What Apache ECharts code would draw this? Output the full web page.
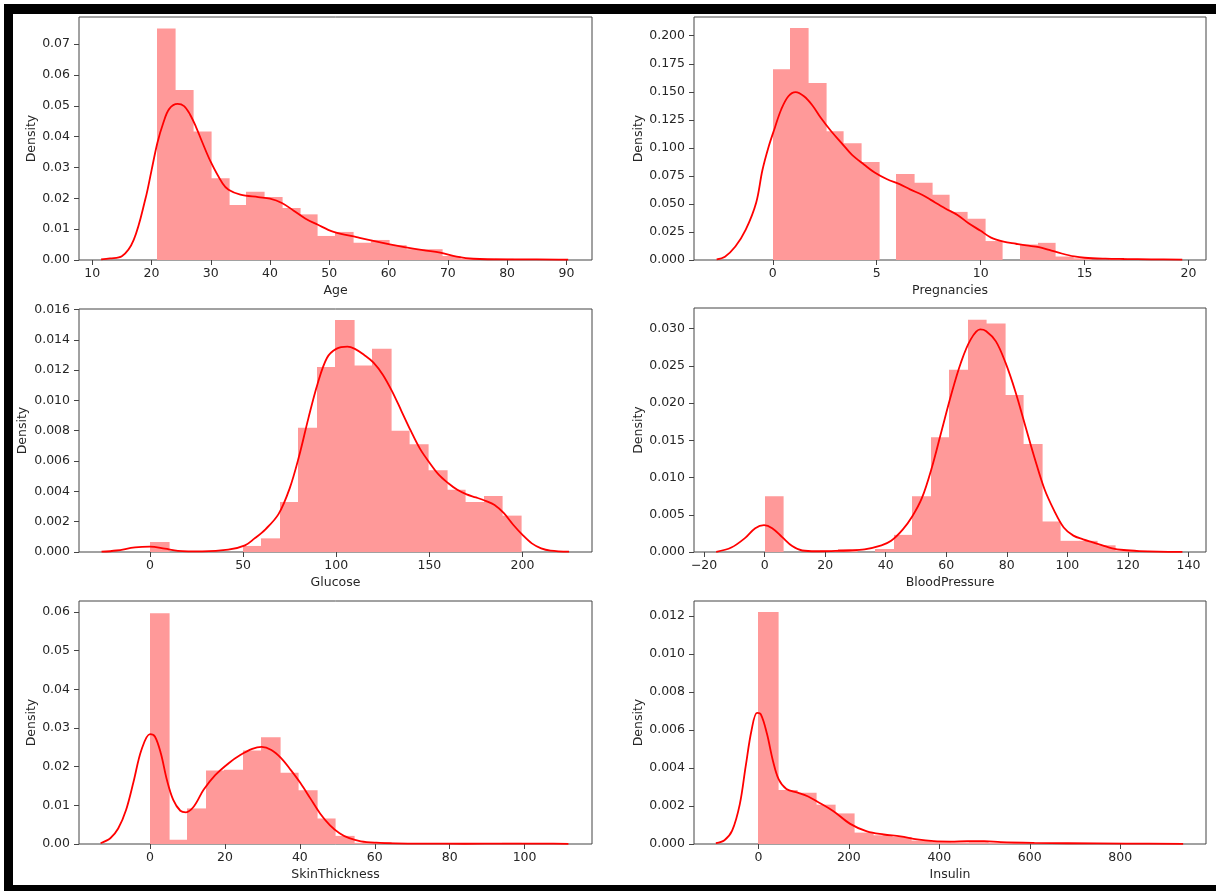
<!DOCTYPE html>
<html>
<head>
<meta charset="utf-8">
<script src="https://cdn.jsdelivr.net/npm/echarts@6/dist/echarts.min.js"></script>
<style>
  html, body { margin: 0; padding: 0; background: #fff; }
  #chart { width: 1216px; height: 891px; }
</style>
</head>
<body>
<div id="chart"></div>
<script>
// histogram densities (20 bins each) and kde curves
var ageBins = [0.0751, 0.0551, 0.0417, 0.0265, 0.0178, 0.0221, 0.0204, 0.0169, 0.0148, 0.0078,
  0.0091, 0.0056, 0.0065, 0.0048, 0.0035, 0.0035, 0.0013, 0.0004, 0, 0.0004];
var ageKdeX = [11.5, 13, 15, 17, 19, 20, 21, 22, 23, 24.4, 25.5, 26.5, 27.5, 28.5, 30, 32, 33, 35, 38, 40, 42, 44, 46, 48, 50.6, 54.6, 60.2, 65.8, 68.7, 71.5, 74.3, 80, 85, 90.3];
var ageKdeY = [0.0002, 0.0005, 0.0012, 0.0065, 0.02, 0.029, 0.038, 0.0445, 0.049, 0.0506, 0.0499, 0.0472, 0.0432, 0.0385, 0.0318, 0.0248, 0.0228, 0.0212, 0.0204, 0.0199, 0.0185, 0.016, 0.0134, 0.0115, 0.0092, 0.0074, 0.0051, 0.0032, 0.0024, 0.0011, 0.0004, 0.0002, 0.0002, 0.0001];

var pregBins = [0.170, 0.2068, 0.1578, 0.1149, 0.1042, 0.0873, 0, 0.0766, 0.0689, 0.0582,
  0.0429, 0.0368, 0.0169, 0, 0.0138, 0.0153, 0.0031, 0.0015, 0, 0.0015];
var pregKdeX = [-2.7, -2.3, -1.8, -1.3, -0.8, -0.5, -0.2, 0.1, 0.4, 0.75, 1.1, 1.5, 1.9, 2.3, 2.8, 3.3, 3.8, 4.4, 4.9, 5.5, 6.1, 6.6, 7.2, 7.6, 8.3, 8.9, 9.4, 10.0, 10.5, 11.1, 11.7, 12.2, 12.8, 13.3, 13.9, 14.5, 15.0, 16.0, 16.9, 18.2, 19.7];
var pregKdeY = [0.0006, 0.003, 0.012, 0.027, 0.051, 0.080, 0.101, 0.118, 0.134, 0.146, 0.1497, 0.146, 0.138, 0.127, 0.115, 0.1045, 0.094, 0.085, 0.078, 0.072, 0.0676, 0.063, 0.058, 0.0536, 0.046, 0.040, 0.033, 0.026, 0.020, 0.0164, 0.0145, 0.013, 0.0115, 0.009, 0.0058, 0.0032, 0.002, 0.0012, 0.0009, 0.0006, 0.0003];

var glucoseBins = [0.00066, 0, 0, 0, 0, 0.0004, 0.0009, 0.0033, 0.0082, 0.0122,
  0.0153, 0.0123, 0.0134, 0.0080, 0.0071, 0.0054, 0.0041, 0.0033, 0.0037, 0.0024];
var glucoseKdeX = [-26, -18, -8, 0, 8, 15, 28, 42, 51, 56, 62, 69, 75, 80, 85, 90, 95, 100, 106, 110, 115, 120, 125, 130, 135, 140, 145, 150, 155, 160, 165, 170, 175, 180, 185, 190, 195, 200, 205, 210, 215, 225];
var glucoseKdeY = [0.00002, 0.0001, 0.0003, 0.00035, 0.00022, 0.00008, 0.00004, 0.00015, 0.00044, 0.00088, 0.0015, 0.0025, 0.0042, 0.0063, 0.0088, 0.0111, 0.0128, 0.0134, 0.01355, 0.0134, 0.0130, 0.0125, 0.0117, 0.0106, 0.0093, 0.0080, 0.0068, 0.0059, 0.0051, 0.00455, 0.0041, 0.0038, 0.0036, 0.00338, 0.0031, 0.00256, 0.0018, 0.00113, 0.00057, 0.00024, 0.00009, 0.00002];

var bpBins = [0.0075, 0, 0, 0.0002, 0.0004, 0, 0.0004, 0.0023, 0.0075, 0.0154,
  0.0245, 0.0312, 0.0307, 0.0211, 0.0145, 0.0041, 0.0015, 0.0015, 0.0009, 0.0002];
var bpKdeX = [-16, -11, -6.4, -3.1, -0.2, 2.5, 5.8, 9.1, 12.4, 17, 22, 28, 33, 38.6, 41.8, 45.6, 48.8, 52, 55.2, 58.4, 61.6, 64.8, 68, 71.2, 73.1, 76.4, 79.6, 82.8, 86, 89.2, 92.4, 95.6, 98.8, 102, 105.2, 108.4, 111.6, 114.8, 118.6, 123.7, 130, 138];
var bpKdeY = [0.00002, 0.0006, 0.0019, 0.0032, 0.0036, 0.0032, 0.002, 0.0008, 0.0002, 0.0001, 0.00013, 0.0002, 0.00036, 0.0009, 0.0015, 0.0030, 0.0048, 0.0073, 0.0113, 0.0162, 0.0211, 0.0254, 0.0285, 0.0299, 0.0297, 0.0283, 0.0254, 0.0216, 0.0171, 0.0126, 0.0085, 0.0056, 0.0033, 0.0022, 0.0017, 0.0013, 0.0009, 0.0005, 0.00027, 0.00013, 0.00005, 0.00002];

var skinBins = [0.0597, 0.0011, 0.0092, 0.0190, 0.0192, 0.0242, 0.0276, 0.0184, 0.0139, 0.0066,
  0.0021, 0.0003, 0.0005, 0, 0, 0, 0, 0, 0, 0.0003];
var skinKdeX = [-13.2, -10.6, -8.5, -6.4, -4.4, -2.3, 0, 1.3, 2.9, 4.5, 6.2, 8.1, 9.6, 11.7, 14.3, 17.4, 21, 24.1, 27.3, 29.8, 32.4, 35, 37.6, 40.2, 42.8, 45.4, 48, 50.6, 53.2, 56.3, 60.4, 65.6, 74, 84, 94.6, 100, 105, 111.7];
var skinKdeY = [0.0002, 0.0015, 0.004, 0.0088, 0.0161, 0.0243, 0.0284, 0.0278, 0.0234, 0.0166, 0.0114, 0.0086, 0.0082, 0.0097, 0.014, 0.0178, 0.0209, 0.023, 0.0246, 0.0251, 0.0243, 0.0222, 0.0191, 0.0157, 0.0118, 0.0079, 0.0049, 0.0028, 0.0015, 0.0007, 0.00034, 0.00017, 0.00009, 0.00007, 0.0001, 0.00012, 0.0001, 0.00002];

var insulinBins = [0.01221, 0.00284, 0.0027, 0.00207, 0.00161, 0.0006, 0.00046, 0.00037, 0.00018, 0.00012,
  0.00009, 0.00012, 0.00006, 0.00006, 0.00003, 0.00003, 0.00003, 0, 0, 0.00003];
var insulinKdeX = [-94, -75, -58, -41, -28, -15, -3, 6, 19, 32, 45, 62, 87, 110, 129, 166, 203, 240, 277, 314, 351, 388, 425, 462, 499, 536, 610, 684, 813, 939];
var insulinKdeY = [0.00004, 0.0002, 0.0007, 0.0021, 0.0041, 0.006, 0.0069, 0.0068, 0.0058, 0.0044, 0.0034, 0.0029, 0.0027, 0.0025, 0.00225, 0.00173, 0.00106, 0.00066, 0.0005, 0.0004, 0.00024, 0.00015, 0.00013, 0.00015, 0.00015, 0.0001, 0.00006, 0.00004, 0.00002, 0.00001];

// tick labels
var ageTicks = [10, 20, 30, 40, 50, 60, 70, 80, 90];
var pregTicks = [0, 5, 10, 15, 20];
var glucoseTicks = [0, 50, 100, 150, 200];
var bpTicks = [-20, 0, 20, 40, 60, 80, 100, 120, 140];
var skinTicks = [0, 20, 40, 60, 80, 100];
var insulinTicks = [0, 200, 400, 600, 800];
var ageDensityTicks = [0, 0.01, 0.02, 0.03, 0.04, 0.05, 0.06, 0.07];
var pregDensityTicks = [0, 0.025, 0.05, 0.075, 0.1, 0.125, 0.15, 0.175, 0.2];
var glucoseDensityTicks = [0, 0.002, 0.004, 0.006, 0.008, 0.01, 0.012, 0.014, 0.016];
var bpDensityTicks = [0, 0.005, 0.01, 0.015, 0.02, 0.025, 0.03];
var skinDensityTicks = [0, 0.01, 0.02, 0.03, 0.04, 0.05, 0.06];
var insulinDensityTicks = [0, 0.002, 0.004, 0.006, 0.008, 0.01, 0.012];

var panels = [
  { name: "Age", bins: ageBins, start: 21, width: 3, kx: ageKdeX, ky: ageKdeY, xt: ageTicks, yt: ageDensityTicks, dec: 2,
    xMin: 7.77, xMax: 94.32, yMax: 0.0788, left: 79, top: 17, w: 513, h: 243, gap: 41 },
  { name: "Pregnancies", bins: pregBins, start: 0, width: 0.85, kx: pregKdeX, ky: pregKdeY, xt: pregTicks, yt: pregDensityTicks, dec: 3,
    xMin: -3.79, xMax: 20.84, yMax: 0.2167, left: 694, top: 17, w: 512, h: 243, gap: 49 },
  { name: "Glucose", bins: glucoseBins, start: 0, width: 9.95, kx: glucoseKdeX, ky: glucoseKdeY, xt: glucoseTicks, yt: glucoseDensityTicks, dec: 3,
    xMin: -38.1, xMax: 237.3, yMax: 0.01603, left: 79, top: 309, w: 513, h: 243, gap: 50 },
  { name: "BloodPressure", bins: bpBins, start: 0, width: 6.1, kx: bpKdeX, ky: bpKdeY, xt: bpTicks, yt: bpDensityTicks, dec: 3,
    xMin: -23.33, xMax: 145.8, yMax: 0.03278, left: 694, top: 308, w: 512, h: 244, gap: 49 },
  { name: "SkinThickness", bins: skinBins, start: 0, width: 4.95, kx: skinKdeX, ky: skinKdeY, xt: skinTicks, yt: skinDensityTicks, dec: 2,
    xMin: -18.96, xMax: 118.0, yMax: 0.06284, left: 79, top: 601, w: 513, h: 243, gap: 40 },
  { name: "Insulin", bins: insulinBins, start: 0, width: 42.3, kx: insulinKdeX, ky: insulinKdeY, xt: insulinTicks, yt: insulinDensityTicks, dec: 3,
    xMin: -142.3, xMax: 989.5, yMax: 0.01279, left: 694, top: 601, w: 512, h: 243, gap: 49 }
];

var font = "DejaVu Sans";
var textColor = "#262626";
var frameColor = "#444";
var barColor = "#ff9999";

var grids = [], xAxes = [], yAxes = [], series = [];

panels.forEach(function (p, i) {
  grids.push({ left: p.left, top: p.top, width: p.w, height: p.h, show: true,
    borderColor: frameColor, borderWidth: 1, backgroundColor: "transparent" });

  xAxes.push({
    type: "value", gridIndex: i, min: p.xMin, max: p.xMax,
    name: p.name, nameLocation: "middle", nameGap: 24,
    nameTextStyle: { fontFamily: font, fontSize: 12.5, color: textColor },
    axisLine: { show: false, onZero: false },
    axisTick: { show: true, length: 5, customValues: p.xt, lineStyle: { color: frameColor } },
    axisLabel: { show: true, margin: 7, customValues: p.xt, fontFamily: font, fontSize: 12.5, color: textColor,
      formatter: function (v) { return String(v).replace("-", "\u2212"); } },
    splitLine: { show: false }
  });

  yAxes.push({
    type: "value", gridIndex: i, min: 0, max: p.yMax,
    name: "Density", nameLocation: "middle", nameRotate: 90, nameGap: p.gap,
    nameTextStyle: { fontFamily: font, fontSize: 12.5, color: textColor },
    axisLine: { show: false, onZero: false },
    axisTick: { show: true, length: 5, customValues: p.yt, lineStyle: { color: frameColor } },
    axisLabel: { show: true, margin: 9, customValues: p.yt, fontFamily: font, fontSize: 12.5, color: textColor,
      formatter: function (v) { return v.toFixed(p.dec); } },
    splitLine: { show: false }
  });

  var binData = p.bins.map(function (d, k) {
    return [p.start + k * p.width, p.start + (k + 1) * p.width, d];
  });
  series.push({
    type: "custom", xAxisIndex: i, yAxisIndex: i,
    encode: { x: [0, 1], y: 2 },
    data: binData,
    renderItem: function (params, api) {
      if (!api.value(2)) return null;
      var a = api.coord([api.value(0), api.value(2)]);
      var b = api.coord([api.value(1), 0]);
      return { type: "rect",
        shape: { x: Math.round(a[0]), y: a[1], width: Math.round(b[0]) - Math.round(a[0]) + 0.6, height: b[1] - a[1] },
        style: { fill: barColor } };
    },
    z: 2
  });

  series.push({
    type: "line", xAxisIndex: i, yAxisIndex: i,
    data: p.kx.map(function (x, k) { return [x, p.ky[k]]; }),
    smooth: 0.35, showSymbol: false, symbol: "none",
    lineStyle: { color: "#ff0000", width: 1.8 },
    z: 3
  });
});

var chart = echarts.init(document.getElementById("chart"));
chart.setOption({
  animation: false,
  backgroundColor: "#fff",
  grid: grids,
  xAxis: xAxes,
  yAxis: yAxes,
  series: series,
  graphic: [
    { type: "rect", shape: { x: 4, y: 4, width: 1212, height: 10 }, style: { fill: "#000" } },
    { type: "rect", shape: { x: 4, y: 4, width: 9, height: 887 }, style: { fill: "#000" } },
    { type: "rect", shape: { x: 4, y: 885, width: 1212, height: 6 }, style: { fill: "#000" } }
  ]
});
</script>
</body>
</html>
